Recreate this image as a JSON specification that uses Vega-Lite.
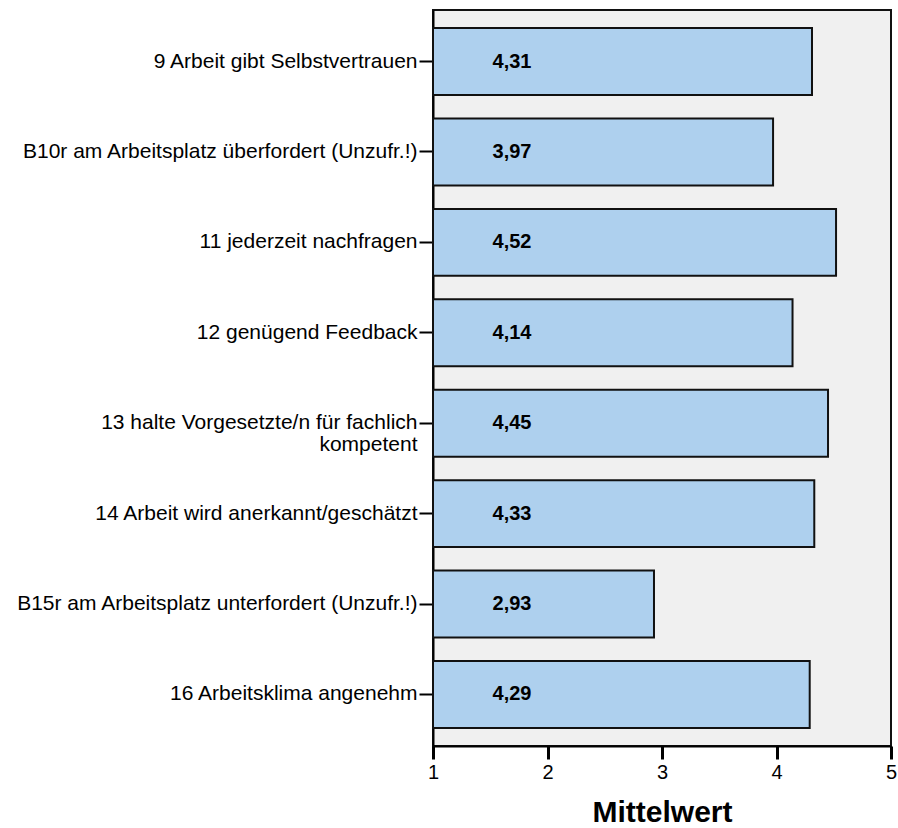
{
  "$schema": "https://vega.github.io/schema/vega-lite/v6.json",
  "autosize": "none",
  "width": 458,
  "height": 736,
  "padding": {"left": 433, "top": 10, "right": 7, "bottom": 82},
  "background": "white",
  "config": {
    "locale": {"number": {"decimal": ",", "thousands": ".", "grouping": [3], "currency": ["", " €"]}},
    "view": {"fill": "#f0f0f0", "stroke": "#111111", "strokeWidth": 2},
    "font": "Liberation Sans"
  },
  "data": {
    "values": [
      {"item": "9 Arbeit gibt Selbstvertrauen", "mean": 4.31},
      {"item": "B10r am Arbeitsplatz überfordert (Unzufr.!)", "mean": 3.97},
      {"item": "11 jederzeit nachfragen", "mean": 4.52},
      {"item": "12 genügend Feedback", "mean": 4.14},
      {"item": "13 halte Vorgesetzte/n für fachlich kompetent", "mean": 4.45},
      {"item": "14 Arbeit wird anerkannt/geschätzt", "mean": 4.33},
      {"item": "B15r am Arbeitsplatz unterfordert (Unzufr.!)", "mean": 2.93},
      {"item": "16 Arbeitsklima angenehm", "mean": 4.29}
    ]
  },
  "encoding": {
    "y": {
      "field": "item",
      "type": "nominal",
      "sort": null,
      "scale": {"paddingInner": 0.26, "paddingOuter": 0.2},
      "axis": {
        "title": null,
        "labelFontSize": 21,
        "labelColor": "#000000",
        "labelLimit": 500,
        "labelPadding": 2,
        "labelLineHeight": 22,
        "tickSize": 14,
        "tickWidth": 2,
        "tickColor": "#000000",
        "domainColor": "#000000",
        "domainWidth": 2,
        "labelExpr": "datum.value == '13 halte Vorgesetzte/n für fachlich kompetent' ? ['13 halte Vorgesetzte/n für fachlich', 'kompetent'] : datum.value"
      }
    }
  },
  "layer": [
    {
      "mark": {"type": "bar", "fill": "#aed0ee", "stroke": "#111111", "strokeWidth": 2},
      "encoding": {
        "x": {
          "field": "mean",
          "type": "quantitative",
          "scale": {"domain": [1, 5], "zero": false, "nice": false},
          "axis": {
            "title": "Mittelwert",
            "titleFontSize": 30,
            "titleFontWeight": "bold",
            "titleColor": "#000000",
            "titlePadding": 15,
            "values": [1, 2, 3, 4, 5],
            "format": "d",
            "grid": false,
            "labelFontSize": 20,
            "labelColor": "#000000",
            "labelPadding": 3,
            "labelFlush": false,
            "tickSize": 13,
            "tickWidth": 3,
            "tickColor": "#000000",
            "domainColor": "#000000",
            "domainWidth": 2
          }
        },
        "x2": {"datum": 1}
      }
    },
    {
      "mark": {"type": "text", "fontSize": 20, "fontWeight": "bold", "color": "#000000", "align": "center", "baseline": "middle"},
      "encoding": {
        "x": {"datum": 1.69},
        "text": {"field": "mean", "type": "quantitative", "format": ".2f"}
      }
    }
  ]
}
